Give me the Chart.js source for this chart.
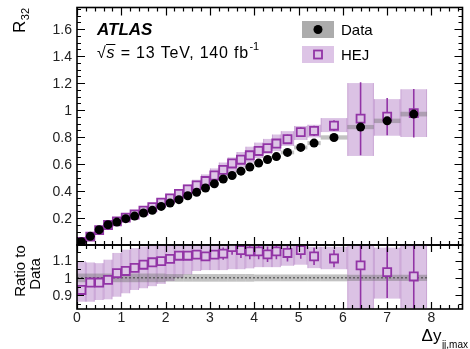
<!DOCTYPE html>
<html>
<head>
<meta charset="utf-8">
<script src="https://cdn.jsdelivr.net/npm/chart.js@4"></script>
<style>
html, body { margin: 0; padding: 0; background: #fff; }
#wrap { position: relative; width: 470px; height: 349px; }
#wrap canvas { position: absolute; left: 0; top: 0; }
</style>
</head>
<body>
<div id="wrap">
    <canvas id="top-chart" width="470" height="349"></canvas>
    <canvas id="ratio-chart" width="470" height="349"></canvas>
</div>
<script>
// bins in delta y_jj,max
const binEdges = [0, 0.2, 0.4, 0.6, 0.8, 1.0, 1.2, 1.4, 1.6, 1.8, 2.0, 2.2, 2.4, 2.6, 2.8, 3.0, 3.2, 3.4, 3.6, 3.8, 4.0, 4.2, 4.4, 4.6, 4.9, 5.2, 5.5, 6.1, 6.7, 7.3, 7.9];

const dataR32 = [0.025, 0.064, 0.113, 0.150, 0.170, 0.195, 0.214, 0.237, 0.257, 0.286, 0.311, 0.336, 0.365, 0.390, 0.422, 0.454, 0.489, 0.515, 0.547, 0.578, 0.607, 0.634, 0.655, 0.686, 0.723, 0.755, 0.797, 0.874, 0.920, 0.970];
const dataSys = [0.025, 0.025, 0.025, 0.025, 0.025, 0.025, 0.025, 0.025, 0.025, 0.025, 0.022, 0.022, 0.022, 0.022, 0.022, 0.022, 0.022, 0.022, 0.022, 0.022, 0.02, 0.02, 0.02, 0.02, 0.02, 0.02, 0.02, 0.018, 0.018, 0.018];

const hejR32 = [0.023, 0.062, 0.110, 0.148, 0.175, 0.203, 0.226, 0.255, 0.280, 0.314, 0.345, 0.379, 0.412, 0.442, 0.474, 0.515, 0.557, 0.604, 0.632, 0.665, 0.697, 0.718, 0.752, 0.784, 0.836, 0.846, 0.884, 0.936, 0.951, 0.977];
const hejRatio = [0.930, 0.973, 0.973, 0.988, 1.027, 1.040, 1.058, 1.076, 1.090, 1.097, 1.110, 1.128, 1.128, 1.134, 1.124, 1.134, 1.140, 1.178, 1.160, 1.153, 1.153, 1.136, 1.153, 1.144, 1.160, 1.124, 1.112, 1.072, 1.033, 1.008];
const hejRatioLo = [0.862, 0.862, 0.872, 0.876, 0.891, 0.911, 0.930, 0.940, 0.952, 0.965, 0.982, 1.000, 1.020, 1.040, 1.045, 1.045, 1.045, 1.050, 1.050, 1.055, 1.062, 1.062, 1.062, 1.070, 1.076, 1.056, 1.050, 0.755, 0.880, 0.825];
const hejRatioHi = [1.095, 1.089, 1.085, 1.105, 1.144, 1.163, 1.172, 1.182, 1.200, 1.210, 1.220, 1.230, 1.230, 1.240, 1.240, 1.250, 1.250, 1.260, 1.260, 1.260, 1.250, 1.240, 1.250, 1.230, 1.220, 1.180, 1.180, 1.373, 1.175, 1.190];
const hejStat = [0.01, 0.01, 0.01, 0.01, 0.01, 0.01, 0.01, 0.01, 0.01, 0.01, 0.01, 0.01, 0.01, 0.02, 0.02, 0.02, 0.035, 0.045, 0.045, 0.045, 0.045, 0.045, 0.045, 0.05, 0.05, 0.05, 0.05, 0.31, 0.15, 0.185];

const xTickLabels = ['0', '1', '2', '3', '4', '5', '6', '7', '8'];
const topTickValues = [0.2, 0.4, 0.6, 0.8, 1.0, 1.2, 1.4, 1.6];
const topTickLabels = ['0.2', '0.4', '0.6', '0.8', '1', '1.2', '1.4', '1.6'];
const ratioTickValues = [0.9, 1.0, 1.1];
const ratioTickLabels = ['0.9', '1', '1.1'];

const FONT = '"Liberation Sans", Arial, sans-serif';
const PURPLE = 'rgb(146, 52, 166)';
const HEJ_BAND = 'rgba(170, 110, 190, 0.42)';
const HEJ_FILL = 'rgb(221, 196, 230)';
const DATA_BAND = 'rgba(110, 110, 110, 0.42)';

const binCenters = binEdges.slice(0, -1).map((e, i) => (e + binEdges[i + 1]) / 2);

function clipArea(ctx, a) {
    ctx.beginPath();
    ctx.rect(a.left, a.top, a.right - a.left, a.bottom - a.top);
    ctx.clip();
}

function drawBand(chart, lo, hi, color, edges) {
    const { ctx, scales: { x, y } } = chart;
    for (let i = 0; i < lo.length; i++) {
        const x0 = x.getPixelForValue(binEdges[i]);
        const x1 = x.getPixelForValue(binEdges[i + 1]);
        const yTop = y.getPixelForValue(hi[i]);
        const yBot = y.getPixelForValue(lo[i]);
        ctx.fillStyle = color;
        ctx.fillRect(x0, yTop, x1 - x0, yBot - yTop);
        if (edges) {
            ctx.strokeStyle = 'rgba(150, 80, 170, 0.25)';
            ctx.lineWidth = 1;
            ctx.beginPath();
            ctx.moveTo(x0 + 0.5, yTop); ctx.lineTo(x0 + 0.5, yBot);
            ctx.moveTo(x1 - 0.5, yTop); ctx.lineTo(x1 - 0.5, yBot);
            ctx.stroke();
        }
    }
}

function drawErrorBars(chart, lo, hi) {
    const { ctx, scales: { x, y } } = chart;
    ctx.strokeStyle = PURPLE;
    ctx.lineWidth = 1.6;
    ctx.beginPath();
    for (let i = 0; i < lo.length; i++) {
        const px = x.getPixelForValue(binCenters[i]);
        ctx.moveTo(px, y.getPixelForValue(hi[i]));
        ctx.lineTo(px, y.getPixelForValue(lo[i]));
    }
    ctx.stroke();
}

function drawFrame(chart, yMinor, yMajorEvery, xMaj, xMin, yMaj, yMin) {
    const { ctx, chartArea: a, scales: { x, y } } = chart;
    ctx.save();
    ctx.strokeStyle = '#000';
    ctx.lineWidth = 1.2;
    ctx.beginPath();
    for (let k = 0; k * 0.2 <= x.max + 1e-9; k++) {
        const px = Math.round(x.getPixelForValue(k * 0.2)) + 0.5;
        const len = k % 5 === 0 ? xMaj : xMin;
        ctx.moveTo(px, a.bottom); ctx.lineTo(px, a.bottom - len);
        ctx.moveTo(px, a.top); ctx.lineTo(px, a.top + len);
    }
    const k0 = Math.ceil(y.min / yMinor - 1e-9);
    for (let k = k0; k * yMinor <= y.max + 1e-9; k++) {
        const py = Math.round(y.getPixelForValue(k * yMinor)) + 0.5;
        const len = k % yMajorEvery === 0 ? yMaj : yMin;
        ctx.moveTo(a.left, py); ctx.lineTo(a.left + len, py);
        ctx.moveTo(a.right, py); ctx.lineTo(a.right - len, py);
    }
    ctx.stroke();
    ctx.lineWidth = 1.6;
    ctx.strokeRect(a.left, a.top, a.right - a.left, a.bottom - a.top);
    ctx.restore();
}

function drawYLabels(chart, values, labels) {
    const { ctx, chartArea: a, scales: { y } } = chart;
    ctx.save();
    ctx.fillStyle = '#222';
    ctx.font = `14px ${FONT}`;
    ctx.textAlign = 'right';
    ctx.textBaseline = 'middle';
    values.forEach((v, i) => ctx.fillText(labels[i], a.left - 5, y.getPixelForValue(v) + 1));
    ctx.restore();
}

const topDecor = {
    id: 'topDecor',
    beforeDatasetsDraw(chart) {
        const { ctx, chartArea: a } = chart;
        ctx.save();
        clipArea(ctx, a);
        drawBand(chart, dataR32.map((d, i) => d * hejRatioLo[i]), dataR32.map((d, i) => d * hejRatioHi[i]), HEJ_BAND, true);
        drawBand(chart, dataR32.map((d, i) => d * (1 - dataSys[i])), dataR32.map((d, i) => d * (1 + dataSys[i])), DATA_BAND, false);
        drawErrorBars(chart, hejR32.map((h, i) => h - hejStat[i] * dataR32[i]), hejR32.map((h, i) => h + hejStat[i] * dataR32[i]));
        ctx.restore();
    },
    afterDraw(chart) {
        const { ctx } = chart;
        drawFrame(chart, 0.05, 4, 8, 4, 8, 4);
        drawYLabels(chart, topTickValues, topTickLabels);

        ctx.save();
        ctx.fillStyle = '#000';
        ctx.textBaseline = 'alphabetic';
        ctx.textAlign = 'left';
        // ATLAS label
        ctx.font = `italic bold 17px ${FONT}`;
        ctx.fillText('ATLAS', 97, 35);
        // sqrt(s) line
        let tx = 97;
        const by = 58;
        ctx.letterSpacing = '0.8px';
        ctx.font = `16px ${FONT}`;
        ctx.fillText('√', tx, by);
        tx += ctx.measureText('√').width;
        ctx.font = `italic 16px ${FONT}`;
        ctx.fillText('s', tx, by);
        const sw = ctx.measureText('s').width;
        ctx.lineWidth = 1;
        ctx.beginPath();
        ctx.moveTo(tx - 0.5, by - 13.5);
        ctx.lineTo(tx + sw, by - 13.5);
        ctx.stroke();
        tx += sw;
        ctx.font = `16px ${FONT}`;
        const rest = ' = 13 TeV, 140 fb';
        ctx.fillText(rest, tx, by);
        tx += ctx.measureText(rest).width;
        ctx.letterSpacing = '0px';
        ctx.font = `11px ${FONT}`;
        ctx.fillText('-1', tx + 0.5, by - 8);

        // legend
        ctx.fillStyle = 'rgb(172, 172, 172)';
        ctx.fillRect(302, 21, 32, 17);
        ctx.fillStyle = HEJ_FILL;
        ctx.fillRect(302, 46, 32, 17);
        ctx.fillStyle = '#000';
        ctx.beginPath();
        ctx.arc(318, 29.5, 4.5, 0, Math.PI * 2);
        ctx.fill();
        ctx.strokeStyle = PURPLE;
        ctx.lineWidth = 1.8;
        ctx.strokeRect(314, 50.5, 8, 8);
        ctx.fillStyle = '#000';
        ctx.font = `15px ${FONT}`;
        ctx.fillText('Data', 341, 35);
        ctx.fillText('HEJ', 341, 60);

        // y title R_32
        ctx.save();
        ctx.translate(25, 33);
        ctx.rotate(-Math.PI / 2);
        ctx.font = `17px ${FONT}`;
        ctx.fillText('R', 0, 0);
        const rw = ctx.measureText('R').width;
        ctx.font = `11px ${FONT}`;
        ctx.fillText('32', rw + 0.5, 4);
        ctx.restore();
        ctx.restore();
    }
};

const ratioDecor = {
    id: 'ratioDecor',
    beforeDatasetsDraw(chart) {
        const { ctx, chartArea: a, scales: { x, y } } = chart;
        ctx.save();
        clipArea(ctx, a);
        drawBand(chart, hejRatioLo, hejRatioHi, HEJ_BAND, true);
        drawBand(chart, dataSys.map(s => 1 - s), dataSys.map(s => 1 + s), DATA_BAND, false);
        // dotted reference line at 1
        ctx.strokeStyle = 'rgba(80, 80, 80, 0.8)';
        ctx.lineWidth = 1.5;
        ctx.setLineDash([2, 2]);
        ctx.beginPath();
        ctx.moveTo(x.getPixelForValue(binEdges[0]), y.getPixelForValue(1));
        ctx.lineTo(x.getPixelForValue(binEdges[binEdges.length - 1]), y.getPixelForValue(1));
        ctx.stroke();
        ctx.setLineDash([]);
        drawErrorBars(chart, hejRatio.map((r, i) => r - hejStat[i]), hejRatio.map((r, i) => r + hejStat[i]));
        ctx.restore();
    },
    afterDraw(chart) {
        const { ctx, chartArea: a, scales: { x } } = chart;
        drawFrame(chart, 0.05, 2, 7, 4, 7, 4);
        drawYLabels(chart, ratioTickValues, ratioTickLabels);

        ctx.save();
        ctx.fillStyle = '#222';
        ctx.font = `14px ${FONT}`;
        ctx.textAlign = 'center';
        ctx.textBaseline = 'alphabetic';
        xTickLabels.forEach((t, i) => ctx.fillText(t, x.getPixelForValue(i), a.bottom + 13));

        // x title
        ctx.fillStyle = '#000';
        ctx.textAlign = 'right';
        ctx.font = `10px ${FONT}`;
        ctx.fillText('jj,max', 468, 348);
        const subW = ctx.measureText('jj,max').width;
        ctx.font = `17px ${FONT}`;
        ctx.fillText('Δy', 468 - subW - 0.5, 341);

        // y title
        ctx.save();
        ctx.translate(25, 271);
        ctx.rotate(-Math.PI / 2);
        ctx.textAlign = 'center';
        ctx.font = `15px ${FONT}`;
        ctx.fillText('Ratio to', 0, 0);
        ctx.fillText('Data', -3, 15);
        ctx.restore();
        ctx.restore();
    }
};

const baseOptions = (yMin, yMax, padding) => ({
    responsive: false,
    animation: false,
    layout: { padding },
    plugins: { legend: { display: false }, tooltip: { enabled: false } },
    scales: {
        x: { type: 'linear', min: 0, max: 8.7, display: false },
        y: { type: 'linear', min: yMin, max: yMax, display: false }
    }
});

new Chart(document.getElementById('top-chart'), {
    type: 'scatter',
    data: {
        datasets: [
            {
                label: 'Data',
                data: binCenters.map((c, i) => ({ x: c, y: dataR32[i] })),
                pointStyle: 'circle',
                pointRadius: 4.5,
                backgroundColor: '#000',
                borderWidth: 0
            },
            {
                label: 'HEJ',
                data: binCenters.map((c, i) => ({ x: c, y: hejR32[i] })),
                pointStyle: 'rect',
                pointRadius: 5.7,
                backgroundColor: HEJ_FILL,
                borderColor: PURPLE,
                borderWidth: 1.8
            }
        ]
    },
    options: baseOptions(0, 1.76, { left: 77, right: 1, top: 7, bottom: 104 }),
    plugins: [topDecor]
});

new Chart(document.getElementById('ratio-chart'), {
    type: 'scatter',
    data: {
        datasets: [
            {
                label: 'HEJ / Data',
                data: binCenters.map((c, i) => ({ x: c, y: hejRatio[i] })),
                pointStyle: 'rect',
                pointRadius: 5.7,
                backgroundColor: HEJ_FILL,
                borderColor: PURPLE,
                borderWidth: 1.8
            }
        ]
    },
    options: baseOptions(0.82, 1.19, { left: 77, right: 1, top: 245, bottom: 40 }),
    plugins: [ratioDecor]
});
</script>
</body>
</html>
